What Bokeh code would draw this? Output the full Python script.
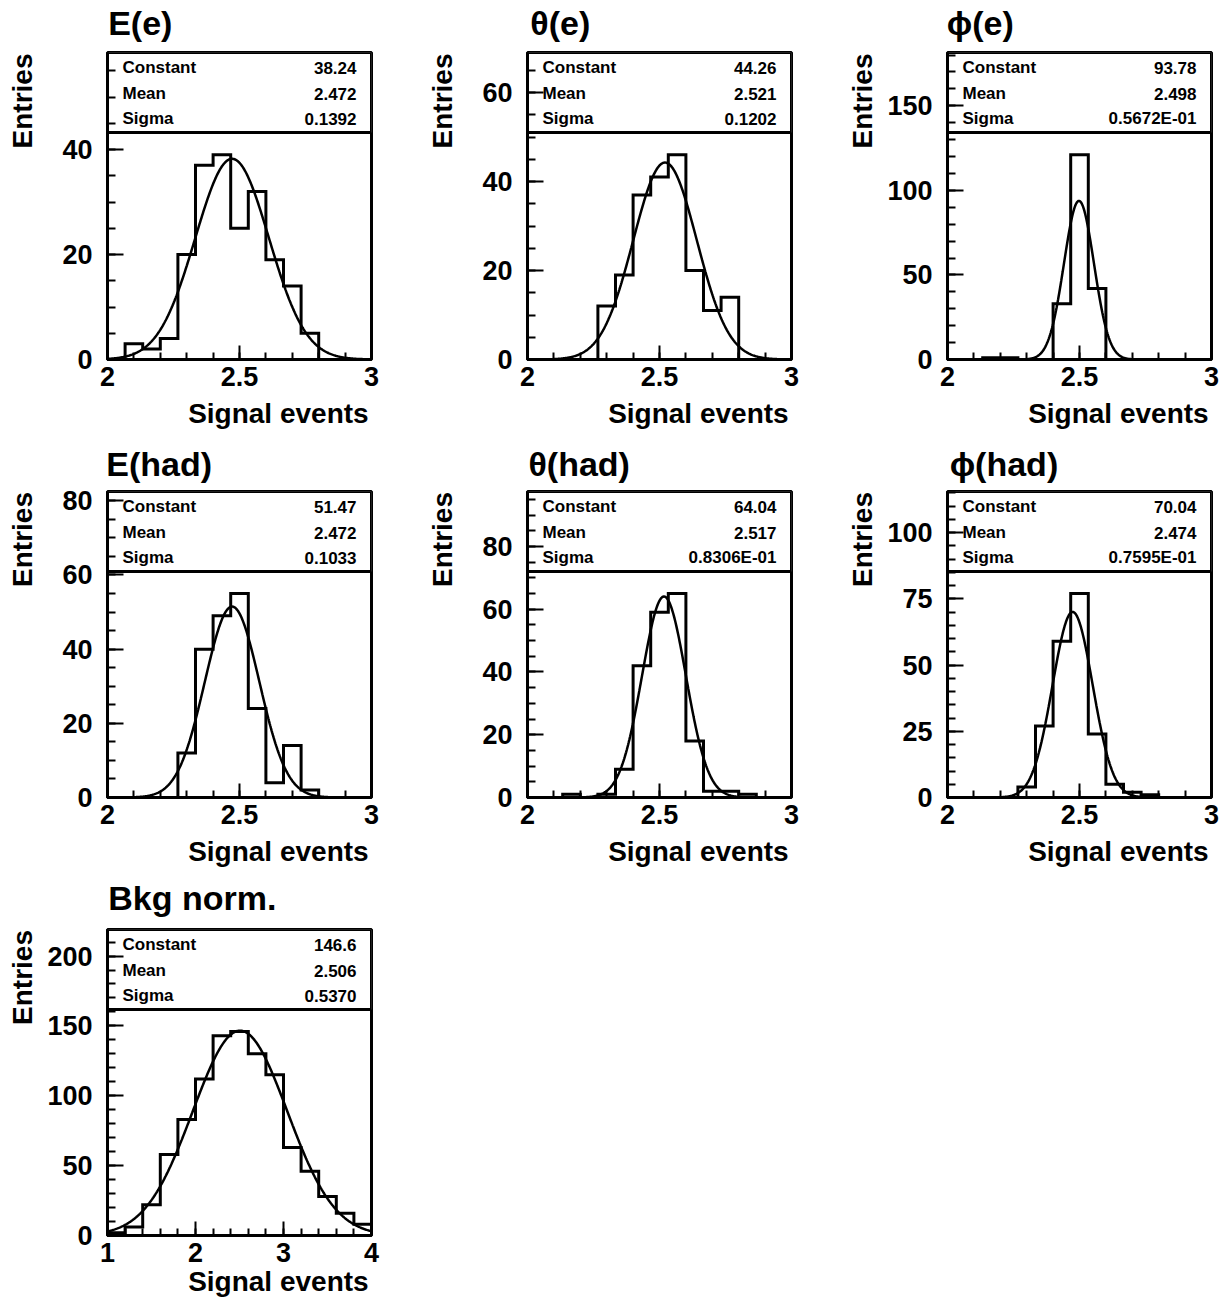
import numpy as np
from bokeh.plotting import figure
from bokeh.models import Range1d, FixedTicker, PrintfTickFormatter, LinearAxis
from bokeh.layouts import column, row
from bokeh.core.properties import value
from bokeh.embed import file_html
from bokeh.resources import INLINE

# ---------------- data ----------------
n_bins = 15
sig_range = [2.0, 3.0]
bkg_range = [1.0, 4.0]

ee_counts = [0, 3, 2, 4, 20, 37, 39, 25, 32, 19, 14, 5, 0, 0, 0]
te_counts = [0, 0, 0, 0, 12, 19, 37, 41, 46, 20, 11, 14, 0, 0, 0]
pe_counts = [0, 0, 1, 1, 0, 0, 33, 121, 42, 0, 0, 0, 0, 0, 0]
eh_counts = [0, 0, 0, 0, 12, 40, 49, 55, 24, 4, 14, 2, 0, 0, 0]
th_counts = [0, 0, 1, 0, 1, 9, 42, 59, 65, 18, 2, 2, 1, 0, 0]
ph_counts = [0, 0, 0, 0, 4, 27, 59, 77, 24, 5, 2, 1, 0, 0, 0]
bkg_counts = [2, 6, 22, 58, 83, 112, 143, 146, 130, 115, 63, 46, 28, 16, 8]

# fit parameters (Constant, Mean, Sigma) and their printed strings
ee_fit = [38.24, 2.472, 0.1392]
te_fit = [44.26, 2.521, 0.1202]
pe_fit = [93.78, 2.498, 0.05672]
eh_fit = [51.47, 2.472, 0.1033]
th_fit = [64.04, 2.517, 0.08306]
ph_fit = [70.04, 2.474, 0.07595]
bkg_fit = [146.6, 2.506, 0.5370]

ee_txt = ["38.24", "2.472", "0.1392"]
te_txt = ["44.26", "2.521", "0.1202"]
pe_txt = ["93.78", "2.498", "0.5672E-01"]
eh_txt = ["51.47", "2.472", "0.1033"]
th_txt = ["64.04", "2.517", "0.8306E-01"]
ph_txt = ["70.04", "2.474", "0.7595E-01"]
bkg_txt = ["146.6", "2.506", "0.5370"]

stat_names = ["Constant", "Mean", "Sigma"]
x_title = "Signal events"
y_title = "Entries"

SANS = "Liberation Sans"
NBSP = "\u00a0"
TITLE_SIZE = 34

# approximate advance widths (1/1000 em) of the bold sans font; used to shift the
# centred axis labels to ROOT's left / right / top alignment
ADV = {"E": 667, "(": 333, ")": 333, "e": 556, "h": 611, "a": 556, "d": 611,
       "B": 722, "k": 556, "g": 611, " ": 278, "n": 611, "o": 611, "r": 389,
       "m": 889, ".": 278, "S": 667, "i": 278, "l": 278, "v": 556, "t": 333,
       "s": 556, "\u03b8": 560, "\u03d5": 716}


def text_w(s, size):
    return sum(ADV.get(c, 600) for c in s) * size / 1000.0


def n_pad(span, s, size):
    # number of no-break spaces so that text + padding spans `span` pixels
    return max(0, int(round((span - text_w(s, size)) / (0.278 * size))))


def style_label(ax, size):
    ax.axis_label_text_font = SANS
    ax.axis_label_text_font_style = "bold"
    ax.axis_label_text_font_size = size
    ax.axis_label_text_color = "black"


def label_axis(text, size, standoff):
    ax = LinearAxis(ticker=FixedTicker(ticks=[], minor_ticks=[]), axis_label=text)
    ax.axis_line_color = None
    ax.major_tick_out = 0
    ax.minor_tick_out = 0
    ax.major_tick_in = 0
    ax.minor_tick_in = 0
    ax.major_label_text_font_size = "0px"
    ax.major_label_standoff = 0
    ax.axis_label_standoff = standoff
    style_label(ax, size)
    return ax


def panel(title, xr, counts, fit, txt, ymaj, ymin_step, xmaj, xmin_step,
          width, height, bl, br, bt, bb, title_standoff, xlab_standoff):
    FW = width - bl - br
    FH = height - bt - bb
    xmin, xmax = xr
    ymax = 1.5 * max(counts)

    def px2x(px):
        return xmin + px * (xmax - xmin) / FW

    def px2y(py):
        return ymax - py * ymax / FH

    p = figure(width=width, height=height, output_backend="svg", toolbar_location=None,
               title_location=None,
               x_range=Range1d(xmin, xmax), y_range=Range1d(0, ymax),
               min_border_left=bl, min_border_right=br,
               min_border_top=bt, min_border_bottom=bb)
    p.grid.visible = False
    p.background_fill_color = "white"
    p.border_fill_color = "white"
    p.outline_line_color = "black"
    p.outline_line_width = 3

    # ticks
    ymajors = list(np.arange(0, ymax + ymaj, ymaj))
    yminors = list(np.arange(0, ymax + ymin_step, ymin_step))
    xmajors = list(np.arange(xmin, xmax + xmaj / 2, xmaj))
    xminors = list(np.arange(xmin, xmax + xmin_step / 2, xmin_step))
    p.yaxis.ticker = FixedTicker(ticks=ymajors, minor_ticks=yminors)
    p.xaxis.ticker = FixedTicker(ticks=xmajors, minor_ticks=xminors)
    for ax in (p.xaxis[0], p.yaxis[0]):
        ax.formatter = PrintfTickFormatter(format="%g")
        ax.axis_line_width = 3
        ax.axis_line_color = "black"
        ax.major_tick_line_width = 2
        ax.minor_tick_line_width = 2
        ax.major_tick_out = 0
        ax.minor_tick_out = 0
        ax.major_label_text_font = SANS
        ax.major_label_text_font_style = "bold"
        ax.major_label_text_font_size = "27px"
        ax.major_label_text_color = "black"
    p.yaxis.major_tick_in = 16
    p.yaxis.minor_tick_in = 8
    p.yaxis.major_label_standoff = 15
    p.xaxis.major_tick_in = 14
    p.xaxis.minor_tick_in = 7
    p.xaxis.major_label_standoff = 7

    # axis titles (ROOT style: right / top aligned), title left aligned
    ndig = max(len("%g" % t) for t in ymajors if t <= ymax)
    ytxt = NBSP * n_pad(FH - 4, y_title, 28) + y_title
    p.add_layout(label_axis(ytxt, "28px", int(52 - 15 * ndig)), "left")
    xtxt = NBSP * n_pad(FW - 4, x_title, 28) + x_title
    p.add_layout(label_axis(xtxt, "28px", xlab_standoff), "below")
    ttxt = title + NBSP * n_pad(FW - 2, title, TITLE_SIZE)
    p.add_layout(label_axis(ttxt, "%dpx" % TITLE_SIZE, title_standoff), "above")

    # stats box
    p.quad(left=[xmin], right=[xmax], bottom=[px2y(80)], top=[ymax],
           fill_color="white", line_color="black", line_width=3)
    rows_px = [15, 41, 66]
    p.text(x=[px2x(15)] * 3, y=[px2y(r) for r in rows_px], text=stat_names,
           text_font=value(SANS), text_font_style="bold", text_font_size="17px",
           text_baseline="middle", text_align="left", text_color="black")
    p.text(x=[px2x(249)] * 3, y=[px2y(r) for r in rows_px], text=txt,
           text_font=value(SANS), text_font_style="bold", text_font_size="17px",
           text_baseline="middle", text_align="right", text_color="black")

    # histogram outline
    edges = np.linspace(xmin, xmax, n_bins + 1)
    hx = [edges[0]]
    hy = [0]
    for i, c in enumerate(counts):
        hx += [edges[i], edges[i + 1]]
        hy += [c, c]
    hx.append(edges[-1])
    hy.append(0)
    p.line(hx, hy, line_color="black", line_width=3, line_join="miter")

    # gaussian fit
    c0, mu, sg = fit
    xs = np.linspace(xmin, xmax, 400)
    ys = c0 * np.exp(-0.5 * ((xs - mu) / sg) ** 2)
    p.line(xs, ys, line_color="black", line_width=2.5)
    return p


H1, H2, H3 = 437, 438, 430
W12, W3 = 420, 387

p1 = panel("E(e)", sig_range, ee_counts, ee_fit, ee_txt, 20, 5, 0.5, 0.1,
           W12, H1, 107, 49, 52, 78, 11, 9)
p2 = panel("\u03b8(e)", sig_range, te_counts, te_fit, te_txt, 20, 5, 0.5, 0.1,
           W12, H1, 107, 49, 52, 78, 11, 9)
p3 = panel("\u03d5(e)", sig_range, pe_counts, pe_fit, pe_txt, 50, 10, 0.5, 0.1,
           W3, H1, 107, 16, 52, 78, 11, 9)
p4 = panel("E(had)", sig_range, eh_counts, eh_fit, eh_txt, 20, 5, 0.5, 0.1,
           W12, H2, 107, 49, 54, 78, 9, 9)
p5 = panel("\u03b8(had)", sig_range, th_counts, th_fit, th_txt, 20, 5, 0.5, 0.1,
           W12, H2, 107, 49, 54, 78, 9, 9)
p6 = panel("\u03d5(had)", sig_range, ph_counts, ph_fit, ph_txt, 25, 5, 0.5, 0.1,
           W3, H2, 107, 16, 54, 78, 9, 9)
p7 = panel("Bkg norm.", bkg_range, bkg_counts, bkg_fit, bkg_txt, 50, 10, 1.0, 0.2,
           W12, H3, 107, 49, 54, 70, 13, 1)

layout = column(row(p1, p2, p3), row(p4, p5, p6), row(p7))
open("out.html", "w").write(file_html(layout, INLINE))
